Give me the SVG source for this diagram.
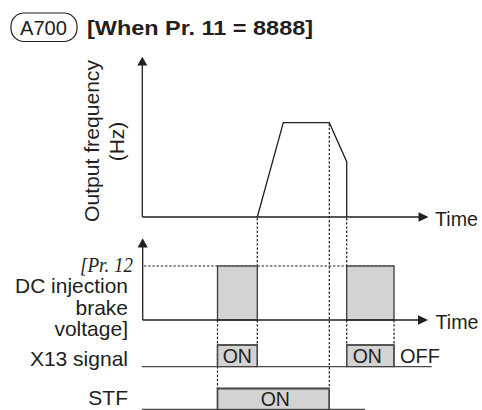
<svg xmlns="http://www.w3.org/2000/svg" width="482" height="410" viewBox="0 0 482 410">
<style>
.t{font-family:"Liberation Sans",Arial,sans-serif;font-size:21px;fill:#231f20}
.ax{stroke:#231f20;stroke-width:1.3;fill:none}
.dash{stroke:#231f20;stroke-width:1.2;fill:none;stroke-dasharray:2.4 1.8}
.pulse{fill:#d3d3d3;stroke:#3a3a3a;stroke-width:1.3}
.sig{stroke:#4a4a4a;stroke-width:1.3;fill:none}
.ah{fill:#231f20}
</style>
<g id="header">
<rect x="11" y="13" width="66" height="28.5" rx="13" ry="13" fill="none" stroke="#231f20" stroke-width="1.2"/>
<text class="t" x="20" y="35" style="font-size:20px" textLength="47" lengthAdjust="spacingAndGlyphs">A700</text>
<text class="t" x="87" y="34.5" style="font-weight:bold;font-size:21px" textLength="226" lengthAdjust="spacingAndGlyphs">[When Pr. 11 = 8888]</text>
</g>
<g id="labels">
<text class="t" transform="translate(98.5,141) rotate(-90)" text-anchor="middle" textLength="162" lengthAdjust="spacingAndGlyphs">Output frequency</text>
<text class="t" transform="translate(124,141.5) rotate(-90)" text-anchor="middle">(Hz)</text>
<text class="t" x="435" y="226" textLength="43" lengthAdjust="spacingAndGlyphs">Time</text>
<text class="t" x="435.5" y="329" textLength="43" lengthAdjust="spacingAndGlyphs">Time</text>
<text x="80" y="271.5" style="font-family:'Liberation Serif','Times New Roman',serif;font-style:italic;font-size:21px;fill:#231f20" textLength="53" lengthAdjust="spacingAndGlyphs">[Pr. 12</text>
<text class="t" x="128" y="293" text-anchor="end" textLength="113" lengthAdjust="spacingAndGlyphs">DC injection</text>
<text class="t" x="128" y="314.5" text-anchor="end">brake</text>
<text class="t" x="128" y="336" text-anchor="end">voltage]</text>
<text class="t" x="128" y="366" text-anchor="end">X13 signal</text>
<text class="t" x="128" y="405" text-anchor="end">STF</text>
</g>
<g id="connectors">
<line class="ax" x1="142.3" y1="217" x2="142.3" y2="64"/>
<polygon class="ah" points="142.3,56.7 137.3,65.5 147.3,65.5"/>
<line class="ax" x1="142.3" y1="217" x2="420" y2="217"/>
<polygon class="ah" points="428.5,217 418.5,212.2 418.5,221.8"/>
<polyline class="ax" points="257.3,217 283.3,122.7 329.3,122.7 346.7,161.7 346.7,217"/>
<line class="ax" x1="142.7" y1="320" x2="142.7" y2="246"/>
<polygon class="ah" points="142.7,238.3 137.7,247.5 147.7,247.5"/>
<polygon class="ah" points="428,320 418,315.2 418,324.8"/>
<line class="dash" x1="144" y1="266" x2="394" y2="266"/>
<line class="dash" x1="257.3" y1="218" x2="257.3" y2="266"/>
<line class="dash" x1="257.3" y1="320" x2="257.3" y2="345"/>
<line class="dash" x1="329.3" y1="123.5" x2="329.3" y2="388.5"/>
<line class="dash" x1="346.7" y1="218" x2="346.7" y2="266"/>
<line class="dash" x1="346.7" y1="320" x2="346.7" y2="345"/>
<line class="dash" x1="217.5" y1="320" x2="217.5" y2="388.5"/>
<line class="dash" x1="394" y1="320" x2="394" y2="345"/>
<rect class="pulse" x="217.5" y="266" width="39.8" height="54"/>
<rect class="pulse" x="346.7" y="266" width="47.3" height="54"/>
<line class="ax" x1="142.7" y1="320" x2="420" y2="320"/>
<rect class="pulse" x="217.5" y="345" width="39.8" height="21.7" stroke="none"/>
<rect class="pulse" x="346.7" y="345" width="47.3" height="21.7" stroke="none"/>
<polyline class="sig" points="141.7,366.7 217.5,366.7 217.5,345 257.3,345 257.3,366.7 346.7,366.7 346.7,345 394,345 394,366.7 431.7,366.7"/>
<rect class="pulse" x="217.5" y="388.5" width="111.8" height="21" stroke="none"/>
<polyline class="sig" points="141.7,409.3 217.5,409.3 217.5,388.5 329.3,388.5 329.3,409.3 365,409.3" stroke="#bdbdbd"/>
<polyline class="sig" points="217.5,409.5 217.5,388.5 329.3,388.5 329.3,409.5"/>
</g>
<g id="signal-labels">
<text class="t" x="222.7" y="362.7" style="font-size:19.5px">ON</text>
<text class="t" x="352.7" y="362.7" style="font-size:19.5px">ON</text>
<text class="t" x="400" y="362.7" style="font-size:19.5px" textLength="40" lengthAdjust="spacingAndGlyphs">OFF</text>
<text class="t" x="275.3" y="406" text-anchor="middle" style="font-size:19.5px">ON</text>
</g>
</svg>
